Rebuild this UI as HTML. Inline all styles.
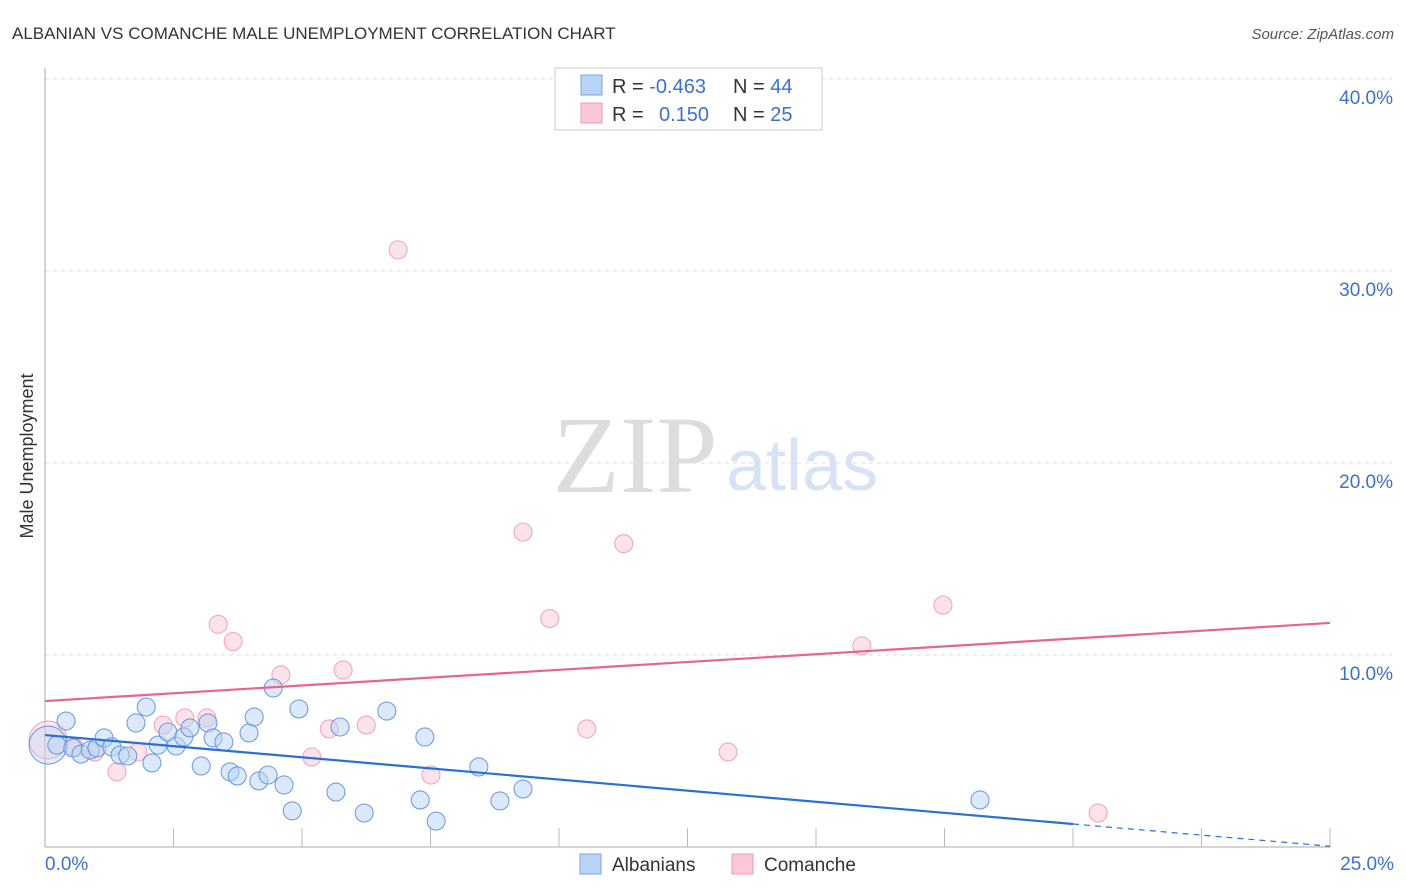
<!DOCTYPE html>
<html><head><meta charset="utf-8"><style>
body{margin:0;background:#fff;font-family:"Liberation Sans",sans-serif;}
#wrap{position:relative;width:1406px;height:892px;overflow:hidden;}
</style></head><body>
<div id="wrap">
<svg id="svg" width="1406" height="892" xmlns="http://www.w3.org/2000/svg">
<text x="12" y="39" font-size="17" fill="#333">ALBANIAN VS COMANCHE MALE UNEMPLOYMENT CORRELATION CHART</text>
<text x="1394" y="39" font-size="15" fill="#555" font-style="italic" text-anchor="end">Source: ZipAtlas.com</text>
<text x="33" y="456" font-size="18" fill="#333" text-anchor="middle" transform="rotate(-90 33 456)">Male Unemployment</text>
<text x="635" y="492" font-size="110" fill="#ddd" font-family="Liberation Serif,serif" text-anchor="middle">ZIP</text>
<text x="802" y="490" font-size="72" fill="#d6e3f5" text-anchor="middle">atlas</text>
<g id="grid"></g><g id="axes"></g><g id="marks"></g>
<g>
<rect x="555" y="68" width="267" height="62" fill="#fff" stroke="#ccc"/>
<rect x="581" y="75" width="21" height="20" fill="#b9d3f5" stroke="#7aa6e6"/>
<rect x="581" y="103" width="21" height="20" fill="#fac8d8" stroke="#ee99b5"/>
<text x="612" y="93" font-size="20" fill="#333">R = <tspan fill="#3c72cc">-0.463</tspan><tspan x="733">N = </tspan><tspan fill="#3c72cc">44</tspan></text>
<text x="612" y="121" font-size="20" fill="#333">R = <tspan x="659" fill="#3c72cc">0.150</tspan><tspan x="733">N = </tspan><tspan fill="#3c72cc">25</tspan></text>
</g>
<g>
<rect x="580" y="854" width="21" height="20" fill="#b9d3f5" stroke="#7aa6e6"/>
<text x="612" y="871" font-size="19" fill="#333">Albanians</text>
<rect x="732" y="854" width="21" height="20" fill="#fac8d8" stroke="#ee99b5"/>
<text x="764" y="871" font-size="19" fill="#333">Comanche</text>
</g>
</svg>
</div>
<script>
const yTicks=[10,20,30,40];
const yTickLabels=["10.0%","20.0%","30.0%","40.0%"];
const xTickLabels=["0.0%","25.0%"];
const blueX=[0.06,0.23,0.41,0.54,0.70,0.88,1.01,1.15,1.30,1.46,1.61,1.77,1.97,2.08,2.20,2.39,2.55,2.70,2.82,3.04,3.17,3.27,3.48,3.60,3.74,3.97,4.07,4.16,4.34,4.44,4.65,4.81,4.94,5.66,5.74,6.21,6.65,7.30,7.39,7.61,8.44,8.85,9.30,18.19];
const blueY=[5.31,5.31,6.56,5.16,4.84,5.05,5.16,5.68,5.21,4.79,4.74,6.46,7.29,4.38,5.31,5.99,5.26,5.73,6.20,4.22,6.46,5.68,5.47,3.91,3.70,5.94,6.77,3.44,3.75,8.28,3.23,1.88,7.19,2.86,6.25,1.77,7.08,2.45,5.73,1.35,4.17,2.40,3.02,2.45];
const pinkX=[0.06,0.58,0.97,1.40,1.81,2.30,2.72,3.15,3.37,3.66,4.59,5.19,5.53,5.80,6.25,6.87,7.51,9.30,9.82,10.54,11.26,13.29,15.89,17.47,20.49];
const pinkY=[5.57,5.16,4.95,3.91,4.95,6.35,6.72,6.72,11.6,10.7,8.96,4.69,6.15,9.22,6.35,31.1,3.75,16.4,11.9,6.15,15.8,4.95,10.47,12.6,1.77];
const blueTrend=[5.83,0.04];
const pinkTrend=[7.6,11.67];
const NS="http://www.w3.org/2000/svg";
const X=v=>45+v*51.4, Y=v=>847-v*19.2;
function mk(tag,attrs,parent){const e=document.createElementNS(NS,tag);for(const k in attrs)e.setAttribute(k,attrs[k]);document.getElementById(parent).appendChild(e);return e;}
yTicks.forEach((t,i)=>{
 const l=mk('line',{x1:45,x2:1392,y1:Y(t),y2:Y(t),stroke:'#ddd','stroke-dasharray':'4,4'},'grid');
 
 
 const tx=mk('text',{x:1393,y:Y(t)+25,'font-size':19,fill:'#3c72cc','text-anchor':'end'},'axes');
 tx.textContent=yTickLabels[i];
 
 
});
const ax=mk('line',{x1:45,x2:45,y1:68,y2:847,stroke:'#aaa'},'axes');


const bx=mk('line',{x1:45,x2:1330,y1:847,y2:847,stroke:'#aaa'},'axes');


for(let i=1;i<=10;i++){const t=mk('line',{x1:X(i*2.5),x2:X(i*2.5),y1:828,y2:847,stroke:'#bbb'},'axes');
 
 }
[[0,'start',45],[25,'end',1394]].forEach((p,i)=>{const t=mk('text',{x:p[2],y:870,'font-size':19,fill:'#3c72cc','text-anchor':p[1]},'axes');t.textContent=xTickLabels[i];
 
 });
function dots(xs,ys,fill,stroke,name){xs.forEach((x,i)=>{const c=mk('circle',{cx:X(x),cy:Y(ys[i]),r:i===0?19:9,fill:fill,'fill-opacity':i===0?0.4:0.5,stroke:stroke,'stroke-width':1.1,'stroke-opacity':0.85},'marks');
 
 });}
dots(pinkX,pinkY,'#fac8d8','#ee99b5','comanche-point');
dots(blueX,blueY,'#b9d3f5','#5b8fde','albanian-point');
const by=v=>blueTrend[0]+(blueTrend[1]-blueTrend[0])*v/25;
const b1=mk('line',{x1:X(0),y1:Y(by(0)),x2:X(20),y2:Y(by(20)),stroke:'#2a6fd6','stroke-width':2.2},'marks');


const b2=mk('line',{x1:X(20),y1:Y(by(20)),x2:X(25),y2:Y(by(25)),stroke:'#2a6fd6','stroke-width':1.2,'stroke-dasharray':'6,5'},'marks');


const p1=mk('line',{x1:X(0),y1:Y(pinkTrend[0]),x2:X(25),y2:Y(pinkTrend[1]),stroke:'#e6648f','stroke-width':2.2},'marks');


</script>
</body></html>
